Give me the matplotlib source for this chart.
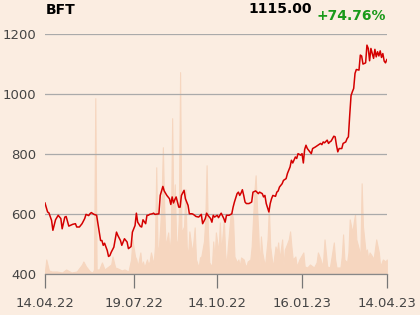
import matplotlib
matplotlib.use("Agg")
import matplotlib.pyplot as plt

# Kursdaten (Handelstag-Index seit 14.04.22, Schlusskurs)
price_days = [0, 2, 3, 5, 6, 8, 10, 12, 13, 15, 16, 18, 19, 21, 23, 24, 26, 28, 30, 31,
              33, 34, 35, 37, 39, 40, 42, 43, 44, 45, 47, 48, 49, 50, 52, 54, 55, 57, 58, 59,
              60, 62, 63, 65, 66, 68, 69, 70, 72, 73, 74, 76, 77, 78, 79, 81, 82, 83, 86, 87,
              89, 90, 92, 94, 95, 96, 97, 98, 99, 101, 102, 103, 105, 106, 108, 109, 111, 112, 114, 116,
              118, 119, 121, 122, 123, 125, 126, 127, 128, 130, 131, 132, 133, 135, 136, 137, 139, 141, 142, 143,
              145, 146, 147, 148, 149, 150, 151, 152, 154, 156, 157, 159, 160, 161, 162, 164, 165, 166, 167, 169,
              170, 171, 172, 174, 175, 176, 177, 179, 180, 182, 183, 184, 185, 186, 187, 189, 190, 191, 193, 194,
              195, 196, 197, 198, 200, 201, 202, 204, 205, 206, 208, 209, 210, 211, 213, 214, 215, 216, 218, 219,
              220, 221, 222, 224, 225, 227, 228, 229, 230, 231, 232, 233, 234, 235, 237, 238, 239, 240, 242, 243,
              244, 245, 246, 247, 248, 249, 250, 251, 252, 253, 254, 255, 256, 257, 258]
prices = [638, 608, 605, 580, 547, 582, 597, 586, 552, 591, 593, 561, 563, 567, 569, 558, 558, 569, 586, 600,
          596, 602, 606, 600, 597, 569, 513, 513, 497, 504, 480, 460, 463, 474, 491, 541, 530, 513, 497, 508,
          519, 508, 486, 493, 541, 563, 604, 574, 560, 558, 582, 569, 597, 597, 600, 602, 604, 600, 602, 663,
          693, 678, 663, 652, 633, 658, 638, 649, 658, 624, 624, 663, 680, 652, 630, 602, 602, 600, 593, 591,
          600, 569, 586, 604, 597, 586, 574, 597, 591, 597, 589, 597, 604, 586, 574, 597, 597, 602, 624, 641,
          669, 674, 663, 671, 682, 663, 641, 636, 636, 641, 674, 678, 674, 669, 674, 669, 658, 663, 636, 608,
          636, 652, 663, 660, 674, 678, 691, 702, 713, 719, 736, 747, 758, 780, 771, 791, 786, 802, 797, 802,
          771, 816, 830, 819, 808, 802, 819, 824, 827, 830, 836, 832, 841, 838, 847, 836, 841, 844, 860, 858,
          830, 808, 819, 819, 836, 841, 852, 858, 930, 995, 1008, 1019, 1069, 1082, 1080, 1130, 1127, 1100, 1104, 1163,
          1152, 1111, 1152, 1135, 1119, 1149, 1124, 1141, 1127, 1144, 1122, 1135, 1110, 1104, 1115]

# Umsatz (Tsd. Stück)
vol_days = [0, 1, 3, 5, 9, 13, 16, 20, 24, 28, 29, 31, 34, 36, 37, 38, 39, 41, 43, 45,
            48, 50, 51, 53, 55, 58, 60, 63, 65, 66, 68, 69, 70, 72, 73, 74, 75, 77, 78, 79,
            80, 82, 83, 84, 85, 86, 87, 88, 89, 90, 91, 93, 94, 95, 96, 97, 98, 99, 100, 101,
            102, 103, 105, 106, 107, 108, 109, 111, 112, 113, 114, 116, 117, 118, 120, 121, 122, 123, 124, 126,
            127, 128, 129, 131, 132, 133, 135, 136, 137, 138, 140, 141, 142, 143, 145, 146, 147, 148, 150, 151,
            152, 153, 155, 156, 157, 158, 159, 160, 161, 162, 163, 164, 166, 168, 169, 170, 172, 174, 175, 176,
            177, 179, 180, 181, 182, 184, 185, 186, 187, 189, 190, 192, 195, 196, 198, 200, 203, 205, 206, 208,
            209, 210, 211, 213, 215, 216, 218, 219, 220, 223, 224, 225, 226, 228, 229, 230, 232, 233, 234, 235,
            237, 238, 239, 240, 242, 243, 244, 245, 247, 248, 249, 250, 252, 253, 255, 257, 258]
volume = [3, 15, 4, 3, 3, 2, 5, 2, 3, 10, 13, 8, 3, 2, 5, 176, 5, 5, 12, 5,
          8, 10, 18, 7, 6, 4, 5, 3, 15, 35, 18, 15, 8, 22, 8, 13, 7, 15, 10, 13,
          22, 10, 28, 107, 22, 28, 48, 75, 127, 68, 28, 42, 22, 38, 156, 55, 90, 35, 28, 55,
          202, 42, 48, 85, 28, 18, 43, 22, 32, 47, 15, 7, 17, 18, 33, 55, 109, 42, 12, 8,
          33, 15, 42, 22, 52, 22, 55, 22, 8, 28, 58, 62, 55, 18, 12, 15, 8, 17, 15, 10,
          8, 13, 15, 28, 55, 82, 99, 68, 42, 8, 38, 22, 8, 35, 67, 28, 7, 28, 22, 32,
          15, 35, 8, 25, 28, 35, 43, 28, 15, 18, 8, 15, 22, 8, 7, 10, 7, 12, 22, 15,
          8, 15, 35, 8, 7, 15, 32, 15, 7, 7, 18, 40, 15, 12, 22, 55, 42, 52, 60, 35,
          25, 15, 91, 48, 22, 25, 15, 22, 18, 15, 25, 35, 22, 8, 15, 13, 15]

tick_days = [0, 67, 130, 194, 258]
tick_labels = ["14.04.22", "19.07.22", "14.10.22", "16.01.23", "14.04.23"]

name = "BFT"
last_price = "1115.00"
change = "+74.76%"

BG = "#fbede1"
VOL = "#f6d6bf"

fig = plt.figure(figsize=(4.2, 3.15), dpi=100, facecolor=BG)
ax = fig.add_axes([0.107, 0.1286, 0.814, 0.7634])
ax_vol = ax.twinx()
ax.set_zorder(ax_vol.get_zorder() + 1)
ax.patch.set_visible(False)
ax_vol.set_facecolor(BG)

# Umsatz im Hintergrund
ax_vol.fill_between(vol_days, 0, volume, facecolor=VOL, edgecolor=VOL, linewidth=0.8)
ax_vol.set_ylim(0, 240)
ax_vol.set_yticks([])
for s in ax_vol.spines.values():
    s.set_visible(False)

# Kurslinie
ax.plot(price_days, prices, color="#d40000", linewidth=1.1, zorder=3)
ax.set_xlim(0, 258)
ax.set_ylim(400, 1200)
ax.set_yticks([400, 600, 800, 1000, 1200])
ax.grid(axis="y", color="#aaaaaa", linewidth=0.9)
ax.set_axisbelow(True)
ax.set_xticks(tick_days)
ax.set_xticklabels(tick_labels)
ax.tick_params(axis="y", length=0, pad=6, labelsize=9.5, labelcolor="#444444")
ax.tick_params(axis="x", length=10, width=0.9, color="#777777", pad=6,
               labelsize=9.5, labelcolor="#444444")
for side in ["left", "right", "top"]:
    ax.spines[side].set_visible(False)
ax.spines["bottom"].set_color("#888888")
ax.spines["bottom"].set_linewidth(0.9)

# Kopfzeile
fig.text(46 / 420, 1 - 10 / 315, name, fontsize=10, fontweight="bold", va="center", ha="left")
fig.text(312 / 420, 1 - 9 / 315, last_price, fontsize=10, fontweight="bold", va="center", ha="right")
fig.text(386 / 420, 1 - 16 / 315, change, fontsize=10, fontweight="bold", va="center", ha="right",
         color="#1a9a1a")

fig.savefig("out.png", dpi=100, facecolor=BG)
